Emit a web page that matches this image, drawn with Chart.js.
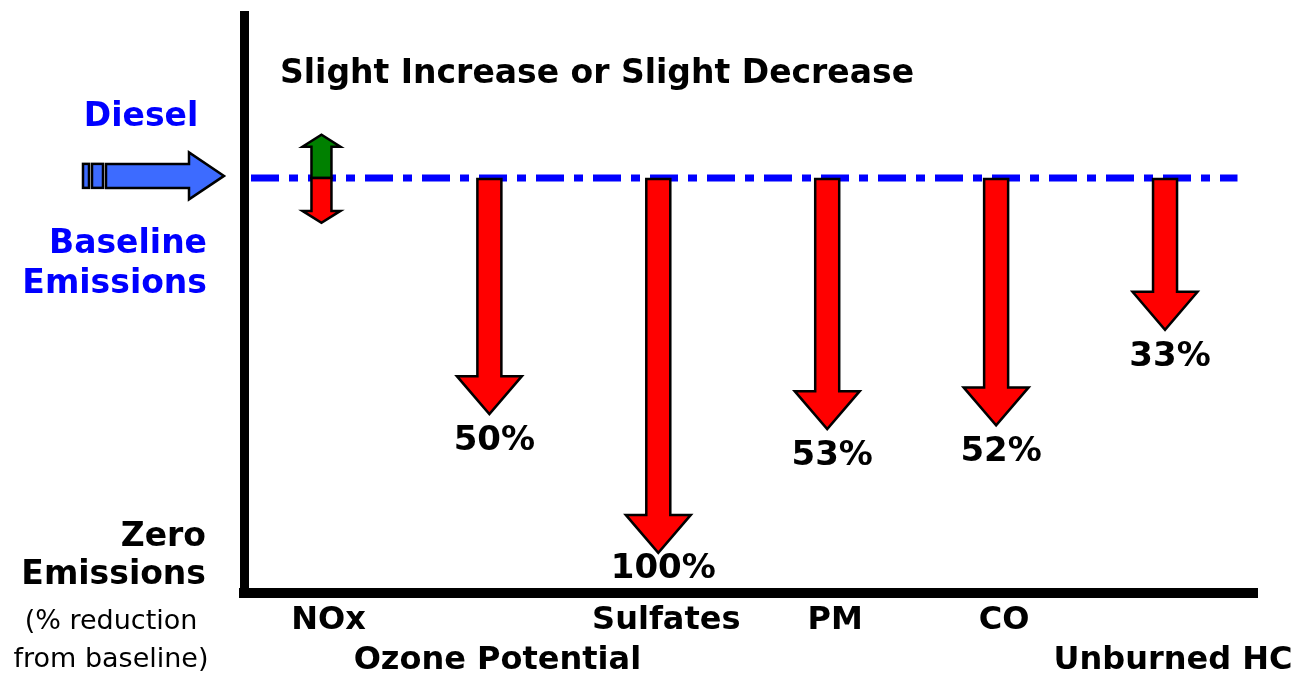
<!DOCTYPE html>
<html>
<head>
<meta charset="utf-8">
<script src="https://cdn.jsdelivr.net/npm/chart.js@4"></script>
<style>
  html, body { margin: 0; padding: 0; background: #fff; overflow: hidden; }
  #wrap { width: 1305px; height: 676px; }
</style>
</head>
<body>
<div id="wrap"><canvas id="chart"></canvas></div>
<script>
// emissions categories along the bottom (two staggered rows)
const categories = ['NOx', 'Ozone Potential', 'Sulfates', 'PM', 'CO', 'Unburned HC'];
const labelRow = [0, 1, 0, 0, 0, 1];
// reduction from diesel baseline, as printed under each arrow
const reductionPct = [null, 50, 100, 53, 52, 33];
// how far down each arrow reaches (0 = baseline, 100 = zero emissions)
const arrowDepth = [null, 63, 100, 67, 66, 40.5];
// NOx: slight increase or slight decrease
const noxRange = [-11.5, 12];
const titleText = 'Slight Increase or Slight Decrease';

const BOLD = 'bold 33px "DejaVu Sans"';

function drawArrow(ctx, x, yFrom, yTo, shaftW, headW, headL, fill) {
  const dir = yTo > yFrom ? 1 : -1;
  const yHead = yTo - dir * headL;
  ctx.beginPath();
  ctx.moveTo(x - shaftW / 2, yFrom);
  ctx.lineTo(x + shaftW / 2, yFrom);
  ctx.lineTo(x + shaftW / 2, yHead);
  ctx.lineTo(x + headW / 2, yHead);
  ctx.lineTo(x, yTo);
  ctx.lineTo(x - headW / 2, yHead);
  ctx.lineTo(x - shaftW / 2, yHead);
  ctx.closePath();
  ctx.fillStyle = fill;
  ctx.fill();
  ctx.lineWidth = 2.5;
  ctx.strokeStyle = '#000';
  ctx.lineJoin = 'miter';
  ctx.stroke();
}

const arrowPlugin = {
  id: 'arrows',
  afterDatasetsDraw(chart) {
    const { ctx, chartArea: area, scales: { x, y } } = chart;
    const yBase = y.getPixelForValue(0);
    ctx.save();

    // dash-dot baseline
    ctx.beginPath();
    ctx.setLineDash([28, 10, 9, 10]);
    ctx.lineWidth = 7;
    ctx.strokeStyle = '#0000FF';
    ctx.moveTo(area.left + 7, yBase);
    ctx.lineTo(area.right - 20, yBase);
    ctx.stroke();
    ctx.setLineDash([]);

    // NOx double arrow
    const xn = x.getPixelForValue(0.5) - 7;
    drawArrow(ctx, xn, yBase, y.getPixelForValue(noxRange[0]), 20, 38, 12, '#008000');
    drawArrow(ctx, xn, yBase, y.getPixelForValue(noxRange[1]), 20, 38, 12, '#FF0000');

    // reduction arrows + labels
    ctx.font = 'bold 34px "DejaVu Sans"';
    ctx.textAlign = 'center';
    ctx.textBaseline = 'middle';
    arrowDepth.forEach((d, i) => {
      if (d == null) return;
      const xa = x.getPixelForValue(i + 0.5) - 8;
      const tip = y.getPixelForValue(d);
      drawArrow(ctx, xa, yBase + 1, tip, 24, 65, 38, '#FF0000');
      ctx.fillStyle = '#000';
      const ly = Math.min(tip + 27, area.bottom - 24);
      ctx.fillText(reductionPct[i] + '%', xa + 5, ly);
    });

    // title inside plot
    ctx.font = BOLD;
    ctx.textAlign = 'left';
    ctx.textBaseline = 'alphabetic';
    ctx.fillText(titleText, area.left + 36, yBase - 95);

    // left side: diesel arrow
    const ya = yBase - 2;
    ctx.fillStyle = '#3D6BFF';
    ctx.lineWidth = 2.5;
    ctx.strokeStyle = '#000';
    [[83, 89], [92, 103]].forEach(([a, b]) => {
      ctx.fillRect(a, ya - 12, b - a, 24);
      ctx.strokeRect(a, ya - 12, b - a, 24);
    });
    ctx.beginPath();
    ctx.moveTo(106, ya - 12);
    ctx.lineTo(189, ya - 12);
    ctx.lineTo(189, ya - 23.5);
    ctx.lineTo(area.left - 20, ya);
    ctx.lineTo(189, ya + 23.5);
    ctx.lineTo(189, ya + 12);
    ctx.lineTo(106, ya + 12);
    ctx.closePath();
    ctx.fill();
    ctx.stroke();

    // left side labels
    ctx.fillStyle = '#0000FF';
    ctx.textAlign = 'center';
    ctx.fillText('Diesel', 141, 126);
    ctx.textAlign = 'right';
    ctx.fillText('Baseline', 207, 253);
    ctx.fillText('Emissions', 207, 293);
    ctx.fillStyle = '#000';
    ctx.fillText('Zero', 206, 546);
    ctx.fillText('Emissions', 206, 584);
    ctx.font = '27px "DejaVu Sans"';
    ctx.textAlign = 'center';
    ctx.fillText('(% reduction', 111, 629);
    ctx.fillText('from baseline)', 111, 667);
    ctx.restore();
  }
};

new Chart(document.getElementById('chart'), {
  type: 'scatter',
  data: {
    datasets: [{
      data: arrowDepth.map((d, i) => ({ x: i + 0.5, y: d == null ? 0 : d })),
      pointRadius: 0,
      pointHoverRadius: 0
    }]
  },
  options: {
    responsive: true,
    maintainAspectRatio: false,
    animation: false,
    events: [],
    layout: { padding: { left: 244, right: 47.5, top: 15.5, bottom: 0 } },
    plugins: { legend: { display: false }, tooltip: { enabled: false } },
    scales: {
      x: {
        type: 'linear',
        min: 0,
        max: 6,
        grid: { display: false, drawTicks: false },
        border: { display: true, color: '#000', width: 10 },
        afterBuildTicks: (s) => { s.ticks = categories.map((c, i) => ({ value: i + 0.5 })); },
        afterFit: (s) => { s.height = 83; },
        ticks: {
          padding: 8,
          color: '#000',
          autoSkip: false,
          maxRotation: 0,
          font: { family: 'DejaVu Sans', weight: 'bold', size: 32, lineHeight: 1.25 },
          callback: (v, i) => labelRow[i] ? ['', categories[i]] : [categories[i], '']
        }
      },
      y: {
        type: 'linear',
        reverse: true,
        min: -43.3,
        max: 110.7,
        grid: { display: false, drawTicks: false },
        border: { display: true, color: '#000', width: 9 },
        ticks: { display: false }
      }
    }
  },
  plugins: [arrowPlugin]
});
</script>
</body>
</html>
